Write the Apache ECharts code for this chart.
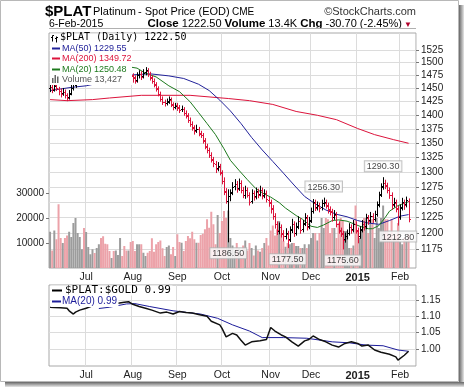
<!DOCTYPE html>
<html><head><meta charset="utf-8">
<script src="https://cdn.jsdelivr.net/npm/echarts@6/dist/echarts.min.js"></script>
<style>html,body{margin:0;padding:0;background:#fff}#c{width:464px;height:387px}</style>
</head><body><div id="c"></div>
<script>
// ---------- data ----------
const monthLabels = ['Jul','Aug','Sep','Oct','Nov','Dec','2015','Feb'];
const monthStart  = [17,39,60,81,104,123,145,165];
const holidays = ['2014-07-04','2014-09-01','2014-11-27','2014-12-25','2015-01-01','2015-01-19'];

// daily [open, high, low, close], 6-Jun-2014 .. 6-Feb-2015
const ohlc = [
[1450,1458,1444,1452],[1453,1456,1442,1448],[1447,1460,1445,1455],[1456,1459,1446,1450],[1449,1452,1438,1445],
[1446,1449,1434,1440],[1441,1450,1437,1443],[1444,1447,1432,1438],[1437,1440,1427,1432],[1433,1446,1430,1440],
[1441,1456,1438,1450],[1451,1463,1447,1458],[1457,1468,1452,1462],[1463,1476,1459,1470],[1471,1484,1466,1478],
[1477,1490,1474,1482],[1483,1488,1473,1480],
[1481,1494,1476,1488],[1489,1506,1485,1500],[1501,1514,1496,1508],[1507,1518,1502,1510],[1511,1514,1498,1505],
[1504,1517,1500,1512],[1513,1524,1508,1518],[1519,1522,1509,1515],[1514,1517,1494,1498],[1497,1502,1485,1490],
[1491,1494,1476,1482],[1481,1486,1472,1478],[1479,1490,1475,1485],[1486,1489,1475,1480],[1479,1493,1476,1488],
[1489,1498,1484,1492],[1493,1501,1488,1495],[1494,1498,1485,1490],[1491,1494,1480,1485],[1484,1488,1472,1478],
[1479,1488,1474,1482],[1481,1485,1470,1475],
[1474,1478,1462,1470],[1471,1474,1460,1465],[1466,1480,1462,1475],[1476,1484,1470,1478],[1477,1482,1467,1472],
[1473,1486,1470,1480],[1481,1490,1476,1485],[1484,1488,1473,1478],[1477,1481,1466,1470],[1471,1474,1460,1465],
[1464,1468,1453,1458],[1457,1461,1445,1450],[1449,1453,1436,1440],[1439,1443,1426,1430],[1431,1434,1420,1425],
[1424,1428,1417,1422],[1423,1430,1419,1425],[1426,1434,1422,1430],[1429,1432,1416,1420],[1419,1423,1410,1415],
[1416,1422,1412,1418],
[1419,1422,1409,1415],[1414,1418,1405,1410],[1411,1417,1407,1412],[1411,1414,1400,1405],[1404,1408,1395,1400],
[1399,1403,1387,1392],[1391,1395,1380,1385],[1384,1388,1373,1378],[1377,1381,1366,1372],[1373,1382,1369,1376],
[1375,1378,1363,1368],[1367,1371,1360,1365],[1364,1367,1350,1355],[1354,1358,1340,1345],[1344,1348,1333,1338],
[1337,1341,1325,1330],[1329,1333,1317,1322],[1321,1325,1309,1315],[1314,1318,1299,1305],[1306,1316,1302,1310],
[1309,1313,1295,1300],
[1299,1302,1280,1285],[1284,1290,1262,1268],[1267,1272,1248,1252],[1251,1270,1186.5,1260],[1259,1270,1252,1265],
[1266,1282,1262,1275],[1276,1287,1270,1280],[1279,1284,1266,1272],[1273,1288,1269,1282],[1281,1285,1265,1270],
[1269,1274,1257,1262],[1261,1276,1256,1270],[1269,1273,1258,1262],[1261,1265,1245,1250],[1251,1270,1248,1265],
[1264,1268,1253,1258],[1259,1273,1255,1268],[1267,1271,1257,1262],[1263,1276,1260,1270],[1269,1273,1255,1260],
[1261,1270,1257,1265],[1264,1268,1250,1255],[1254,1258,1243,1250],
[1249,1253,1232,1240],[1239,1244,1222,1228],[1227,1231,1208,1215],[1214,1218,1198,1205],[1204,1216,1199,1210],
[1209,1213,1194,1200],[1199,1204,1188,1195],[1196,1207,1191,1200],[1199,1203,1177.5,1190],[1191,1210,1187,1205],
[1206,1222,1201,1215],[1214,1218,1195,1200],[1201,1216,1197,1210],[1211,1226,1207,1220],[1219,1223,1200,1205],
[1206,1220,1202,1215],[1216,1231,1212,1225],[1224,1228,1205,1210],[1211,1225,1207,1220],
[1221,1240,1217,1235],[1236,1254,1232,1250],[1249,1253,1236,1240],[1241,1250,1237,1245],[1244,1248,1234,1240],
[1241,1253,1237,1248],[1249,1256.3,1243,1250],[1249,1253,1240,1245],[1244,1248,1232,1238],[1237,1242,1229,1235],
[1234,1238,1219,1225],[1226,1236,1222,1230],[1229,1233,1210,1215],[1214,1218,1200,1205],[1204,1208,1195,1200],
[1199,1203,1175.6,1190],[1191,1200,1186,1195],[1196,1205,1191,1200],[1201,1215,1197,1210],[1209,1213,1200,1205],
[1206,1220,1202,1215],[1214,1218,1200,1205],
[1204,1208,1185,1195],[1196,1210,1192,1205],[1206,1220,1202,1215],[1214,1218,1205,1210],[1211,1230,1207,1225],
[1224,1228,1214,1220],[1221,1233,1217,1228],[1227,1231,1217,1222],[1223,1235,1219,1230],[1231,1250,1227,1245],
[1246,1266,1242,1262],[1263,1280,1259,1275],[1276,1290.3,1271,1282],[1281,1286,1272,1278],[1277,1281,1265,1270],
[1269,1273,1256,1262],[1261,1265,1238,1245],[1246,1256,1242,1250],[1249,1253,1234,1240],[1239,1243,1212.8,1225],
[1226,1245,1222,1240],[1241,1256,1237,1250],[1249,1253,1238,1245],[1246,1258,1242,1253.2],[1252,1255,1218,1222.5]
];

// daily volume, thousands
const volume = [
14.5,7,15,11.5,25.5,12,10,12,13,14.5, 12.4,18,20,14,12.4,7.5,16,14.4,8.4,5.5,
7.5,6,8,9.5,12,12.7,9.7,9.5,6.8,4, 6.8,7,5.2,12,4.8,8.8,7,7,10.4,10.8,
6.8,9.5,9.5,9.5,6.1,4.8,6.1,6.8,11.9,6.5, 9.5,10.4,11,7.9,4.8,8.4,9,5.5,8.4,4.8,
13.5,10.4,10.1,6.8,10.8,12.8,11.9,14.5,11.5,10.1, 10.1,13.2,13.7,15.5,19.5,16.1,22.5,17.5,9.5,21.2,
14,18.8,22.8,20,23,12,9,7,10,8, 6,9,11,7,10,8,5,9,7,6.5, 8,10,12,9,
15,17,13,15.5,
18.8,13.5,10.8,8.5,10,9.5,10,10,8.8,8.8, 8,8,9.5,8,9.5,12,14,14,11,14,
20,16,20,19.5,14,16,16,12,18,20, 19,14.8,14.8,8,8,9,25,14.8,12,15,
20,20,14,19.5,19.5,12,20,16,20,25, 19.5,19.5,13,19.5,12,13.5,18,10.5,9.5,12,
11,13.427
];

// moving averages: [day index, value]
const ma50 = [[0,1446],[5,1449],[10,1452],[17,1455],[25,1462],[32,1469],[39,1476],[47,1478],[56,1474],[63,1469],
 [70,1458],[75,1446],[80,1428],[85,1408],[90,1385],[95,1360],[100,1338],[105,1318],[110,1298],[115,1278],
 [120,1259],[125,1247],[130,1237],[135,1230],[140,1226],[145,1220],[150,1216],[155,1214],[160,1220],[165,1227],[169,1229.55]];
const ma200 = [[0,1429],[8,1427],[20,1429],[28,1432],[43,1437],[66,1437],[84,1431],[94,1427],[105,1420],[116,1407],
 [126,1400],[135,1392],[145,1376],[153,1365],[162,1356],[169,1349.72]];
const ma20 = [[18,1468],[25,1478],[32,1490],[38,1491],[41,1489],[45,1479],[50,1472],[56,1455],[61,1444],[66,1425],
 [70,1405],[74,1385],[78,1365],[82,1340],[85,1320],[89,1303],[93,1287],[97,1272],[101,1263],[104,1258],[108,1249],
 [111,1240],[116,1228],[119,1222],[123,1211],[126,1209],[129,1213],[133,1220],[136,1221],[140,1219],[143,1215],
 [146,1211],[150,1207],[152,1207],[155,1212],[158,1225],[160,1235],[164,1244],[169,1250.48]];

// $PLAT:$GOLD ratio and its MA(20): [day index, value]
const ratio = [[0,1.128],[2,1.127],[5,1.126],[8,1.125],[9,1.117],[11,1.107],[12,1.113],[14,1.119],[17,1.125],
 [20,1.132],[24,1.138],[28,1.142],[32,1.140],[35,1.143],[37,1.145],[39,1.137],[42,1.130],[45,1.125],[48,1.119],
 [52,1.110],[55,1.113],[58,1.107],[61,1.115],[64,1.112],[67,1.110],[70,1.106],[74,1.100],[76,1.085],[80,1.074],
 [81,1.064],[83,1.037],[86,1.048],[88,1.043],[90,1.027],[92,1.012],[95,1.022],[99,1.025],[102,1.029],[104,1.066],
 [106,1.055],[109,1.043],[111,1.037],[114,1.022],[117,1.009],[120,1.025],[122,1.029],[124,1.040],[127,1.029],
 [130,1.022],[133,1.012],[136,1.006],[139,1.017],[142,1.022],[145,1.017],[147,1.009],[150,1.012],[153,0.997],
 [156,0.990],[160,0.984],[163,0.976],[164,0.966],[167,0.981],[169,0.993]];
const ratioMa20 = [[23,1.124],[28,1.128],[32,1.133],[36,1.138],[40,1.139],[47,1.130],[58,1.117],[71,1.107],
 [79,1.094],[86,1.074],[94,1.055],[100,1.035],[110,1.035],[121,1.033],[133,1.022],[141,1.019],[149,1.012],
 [157,1.010],[164,0.997],[169,0.993]];

// swing labels
const peakIdx = [129,157], peakVal = [1256.30,1290.30];
const troughIdx = [84,112,138,164], troughVal = [1186.50,1177.50,1175.60,1212.80];

// axis ticks
const priceTicks = [1175,1200,1225,1250,1275,1300,1325,1350,1375,1400,1425,1450,1475,1500,1525];
const volTicks = [10,20,30];
const ratioTicks = [1.00,1.05,1.10,1.15];

// ---------- build ----------
const categories = [];
for (let d = new Date(Date.UTC(2014,5,6)); categories.length < ohlc.length; d.setUTCDate(d.getUTCDate()+1)) {
  const wd = d.getUTCDay(), s = d.toISOString().slice(0,10);
  if (wd === 0 || wd === 6 || holidays.includes(s)) continue;
  categories.push(s);
}
categories.push('','','');

const L = Math.log;
const UP = '#000000', DOWN = '#dc143c';
const up = ohlc.map((r,i) => i === 0 ? r[3] >= r[0] : r[3] >= ohlc[i-1][3]);
const FF = "'Liberation Sans', Arial, sans-serif";
const isMonth = i => monthStart.indexOf(i) >= 0;

function mkX(g){
  return {type:'category', gridIndex:g, data:categories, boundaryGap:true,
    axisLine:{show:false}, axisTick:{show:false},
    axisLabel:{interval:(i)=>isMonth(i), margin:4, fontSize:10.5, color:'#222', fontFamily:FF,
      formatter:(v,i)=>{const k=monthStart.indexOf(i); if(k<0) return ''; return k===6 ? '{b|'+monthLabels[k]+'}' : monthLabels[k];},
      rich:{b:{fontWeight:'bold', fontSize:11, fontFamily:FF, color:'#222'}}},
    splitLine:{show:true, interval:(i)=>isMonth(i), lineStyle:{color:'#dcdcdc', width:1}}};
}

const labelStyle = {show:true, backgroundColor:'#fff', borderColor:'#b4b4b4', borderWidth:1,
  padding:[1,2,0,2], fontSize:9, fontFamily:FF, color:'#111', distance:6};

const option = {
  animation:false,
  backgroundColor:'#fff',
  grid:[
    {left:49, top:33, width:367, height:235, show:true, borderColor:'#a8a8a8', borderWidth:1, backgroundColor:'transparent'},
    {left:49, top:285, width:367, height:81, show:true, borderColor:'#a8a8a8', borderWidth:1, backgroundColor:'transparent'}
  ],
  xAxis:[mkX(0), mkX(1)],
  yAxis:[
    {gridIndex:0, type:'value', position:'right', min:L(1146.6), max:L(1559),
      axisLine:{show:false},
      axisTick:{show:true, length:3, customValues:priceTicks.map(L), lineStyle:{color:'#777'}},
      axisLabel:{customValues:priceTicks.map(L), formatter:v=>String(Math.round(Math.exp(v))), margin:5, fontSize:10, color:'#222', fontFamily:FF},
      splitLine:{show:true, lineStyle:{color:'#dcdcdc'}}},
    {gridIndex:0, type:'value', position:'left', min:0, max:94,
      axisLine:{show:false},
      axisTick:{show:true, length:3, customValues:volTicks, lineStyle:{color:'#777'}},
      axisLabel:{customValues:volTicks, formatter:v=>String(v*1000), margin:5, fontSize:10, color:'#222', fontFamily:FF},
      splitLine:{show:false}},
    {gridIndex:1, type:'value', position:'right', min:0.948, max:1.196,
      axisLine:{show:false},
      axisTick:{show:true, length:3, customValues:ratioTicks, lineStyle:{color:'#777'}},
      axisLabel:{customValues:ratioTicks, formatter:v=>v.toFixed(2), margin:5, fontSize:10, color:'#222', fontFamily:FF},
      splitLine:{show:true, lineStyle:{color:'#dcdcdc'}}}
  ],
  series:[
    {type:'bar', xAxisIndex:0, yAxisIndex:1, barWidth:2, z:1, silent:true,
      data: volume.map((v,i)=>({value:v, itemStyle:{color: up[i] ? '#9c9c9c' : '#eca2a9'}}))},
    {type:'line', xAxisIndex:0, yAxisIndex:0, data:ma200.map(p=>[p[0],L(p[1])]), showSymbol:false, z:3,
      lineStyle:{color:'#dc143c', width:1}},
    {type:'line', xAxisIndex:0, yAxisIndex:0, data:ma50.map(p=>[p[0],L(p[1])]), showSymbol:false, z:3,
      lineStyle:{color:'#22229a', width:1}},
    {type:'line', xAxisIndex:0, yAxisIndex:0, data:ma20.map(p=>[p[0],L(p[1])]), showSymbol:false, z:3,
      lineStyle:{color:'#1e7a1e', width:1}},
    {type:'custom', xAxisIndex:0, yAxisIndex:0, z:4,
      data: ohlc.map((r,i)=>[i, L(r[0]), L(r[1]), L(r[2]), L(r[3]), up[i]?1:0]),
      encode:{x:0, y:[1,2,3,4]},
      renderItem:(params, api)=>{
        const x = api.value(0);
        const o = api.coord([x, api.value(1)]), h = api.coord([x, api.value(2)]);
        const l = api.coord([x, api.value(3)]), c = api.coord([x, api.value(4)]);
        const col = api.value(5) ? UP : DOWN;
        const cx = Math.round(o[0]) + 0.5;
        const st = {stroke:col, lineWidth:1};
        return {type:'group', children:[
          {type:'line', shape:{x1:cx, y1:h[1]-0.5, x2:cx, y2:l[1]+0.5}, style:st},
          {type:'line', shape:{x1:cx-1.5, y1:Math.round(o[1])+0.5, x2:cx, y2:Math.round(o[1])+0.5}, style:st},
          {type:'line', shape:{x1:cx, y1:Math.round(c[1])+0.5, x2:cx+1.5, y2:Math.round(c[1])+0.5}, style:st}
        ]};
      }},
    {type:'scatter', xAxisIndex:0, yAxisIndex:0, symbolSize:1, itemStyle:{color:'rgba(0,0,0,0)'}, z:6, silent:true,
      label:Object.assign({position:'top'}, labelStyle),
      data: peakIdx.map((i,k)=>({value:[i, L(peakVal[k])], label:{formatter:peakVal[k].toFixed(2)}}))},
    {type:'scatter', xAxisIndex:0, yAxisIndex:0, symbolSize:1, itemStyle:{color:'rgba(0,0,0,0)'}, z:6, silent:true,
      label:Object.assign({position:'bottom'}, labelStyle),
      data: troughIdx.map((i,k)=>({value:[i, L(troughVal[k])], label:{formatter:troughVal[k].toFixed(2)}}))},
    {type:'line', xAxisIndex:1, yAxisIndex:2, data:ratioMa20, showSymbol:false, z:3,
      lineStyle:{color:'#1c1c9a', width:1}},
    {type:'line', xAxisIndex:1, yAxisIndex:2, data:ratio, showSymbol:false, z:4,
      lineStyle:{color:'#111', width:1.5}}
  ],
  graphic:[]
};

// ---------- decorations ----------
const G = option.graphic;
function txt(x,y,text,font,fill,align,rich){ G.push({type:'text', x, y, z:100, silent:true,
  style:{text, font, fill:fill||'#000', align:align||'left', verticalAlign:'middle', rich:rich}}); }
function rect(x,y,w,h,fill,stroke){ G.push({type:'rect', z:99, silent:true, shape:{x,y,width:w,height:h},
  style:{fill:fill||'none', stroke:stroke||'none', lineWidth:1}}); }
function ln(x1,y1,x2,y2,col,w){ G.push({type:'line', z:100, silent:true, shape:{x1,y1,x2,y2}, style:{stroke:col, lineWidth:w||1}}); }

// frame + shadow
G.push({type:'rect', z:-10, silent:true, shape:{x:0.5,y:0.5,width:458,height:381}, style:{fill:'none', stroke:'#b8b8b8', lineWidth:1}});
G.push({type:'rect', z:-10, silent:true, shape:{x:459,y:5,width:5,height:382},
  style:{fill:new echarts.graphic.LinearGradient(0,0,1,0,[{offset:0,color:'#666'},{offset:1,color:'#e6e6e6'}])}});
G.push({type:'rect', z:-10, silent:true, shape:{x:5,y:382,width:459,height:5},
  style:{fill:new echarts.graphic.LinearGradient(0,0,0,1,[{offset:0,color:'#666'},{offset:1,color:'#e6e6e6'}])}});

// header
txt(45, 11.5, '$PLAT', 'bold 15px '+FF, '#000');
txt(93, 12, 'Platinum', '11px '+FF, '#000');
txt(138, 12, '- Spot Price (EOD)', '11px '+FF, '#000');
txt(232, 12.5, 'CME', '10px '+FF, '#000');
txt(416, 12, '\u00a9StockCharts.com', '11px '+FF, '#333', 'right');
txt(49, 24, '6-Feb-2015', '10.5px '+FF, '#000');
txt(402, 24, '{b|Close} 1222.50 {b|Volume} 13.4K {b|Chg} -30.70 (-2.45%)', '11px '+FF, '#000', 'right',
  {b:{font:'bold 11.5px '+FF, fill:'#000'}});
txt(404, 24.5, '\u25BC', '8px '+FF, '#b0002a');
ln(49, 28.5, 416, 28.5, '#b0b0b0', 1);

// main legend
rect(50, 33.5, 82, 51.5, '#fff');
ln(52.5, 32.5+3, 52.5, 32.5+9, '#000'); ln(51, 37.5, 52.5, 37.5, '#000'); ln(52.5, 35.5, 54, 35.5, '#000');
ln(56.5, 32.5+4, 56.5, 32.5+10, '#000'); ln(55, 38.5, 56.5, 38.5, '#000'); ln(56.5, 37.5, 58, 37.5, '#000');
txt(60, 37, '$PLAT (Daily) 1222.50', "10px 'DejaVu Sans Mono', monospace", '#000');
ln(52, 48.5, 60, 48.5, '#22229a', 2); txt(62, 48.5, 'MA(50) 1229.55', '9px '+FF, '#22229a');
ln(52, 58.5, 60, 58.5, '#dc143c', 2); txt(62, 58.5, 'MA(200) 1349.72', '9px '+FF, '#dc143c');
ln(52, 69.5, 60, 69.5, '#1e7a1e', 2); txt(62, 69.5, 'MA(20) 1250.48', '9px '+FF, '#1e7a1e');
G.push({type:'rect', z:100, silent:true, shape:{x:52,y:78,width:1.5,height:5}, style:{fill:'#666'}});
G.push({type:'rect', z:100, silent:true, shape:{x:54.5,y:75,width:1.5,height:8}, style:{fill:'#666'}});
G.push({type:'rect', z:100, silent:true, shape:{x:57,y:76.5,width:1.5,height:6.5}, style:{fill:'#666'}});
txt(62, 79.5, 'Volume 13,427', '9px '+FF, '#555');

// lower legend
rect(50.5, 285.5, 122, 10, '#fff');
rect(50.5, 296, 68, 11, '#fff');
ln(52, 290.5, 62, 290.5, '#000', 2);
txt(65, 290.5, '$PLAT:$GOLD 0.99', "11px 'DejaVu Sans Mono', monospace", '#000');
ln(52, 301.5, 61, 301.5, '#1c1c9a', 2);
txt(62, 301.5, 'MA(20) 0.99', '10px '+FF, '#1c1c9a');

const chart = echarts.init(document.getElementById('c'), null, {renderer:'canvas'});
chart.setOption(option);
</script>
</body></html>
